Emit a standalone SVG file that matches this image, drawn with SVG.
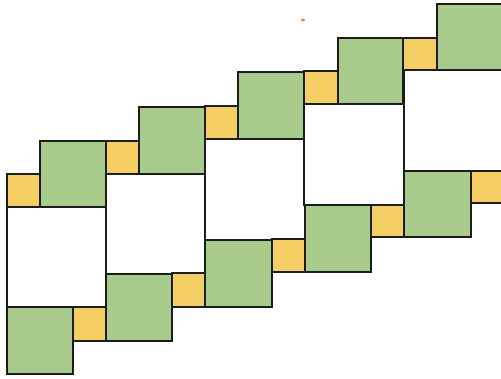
<svg xmlns="http://www.w3.org/2000/svg" width="501" height="379" viewBox="0 0 501 379">
<style>
rect{stroke:#1c1c1c;stroke-width:2;stroke-linejoin:miter}
.g{fill:#a9cb8c}
.y{fill:#f5cf64}
.w{fill:#ffffff}
</style>
<rect x="0" y="0" width="501" height="379" fill="#ffffff" style="stroke:none"/>
<g id="whites">
<rect id="w1" class="w" x="7" y="207" width="99" height="100"/>
<rect id="w2" class="w" x="106" y="174" width="99" height="100"/>
<rect id="w3" class="w" x="205" y="139" width="100" height="101"/>
<rect id="w4" class="w" x="304" y="104" width="100" height="101"/>
<rect id="w5" class="w" x="404" y="70" width="110" height="101"/>
</g>
<g id="top-row">
<g id="ty1"><rect class="y" x="7" y="174" width="33" height="33"/></g>
<g id="tg1"><rect class="g" x="40" y="141" width="66" height="66"/></g>
<g id="ty2"><rect class="y" x="106" y="141" width="33" height="33"/></g>
<g id="tg2"><rect class="g" x="139" y="107" width="66" height="67"/></g>
<g id="ty3"><rect class="y" x="205" y="106" width="33" height="33"/></g>
<g id="tg3"><rect class="g" x="238" y="72" width="66" height="67"/></g>
<g id="ty4"><rect class="y" x="304" y="71" width="34" height="33"/></g>
<g id="tg4"><rect class="g" x="338" y="38" width="65" height="66"/></g>
<g id="ty5"><rect class="y" x="403" y="38" width="34" height="32"/></g>
<g id="tg5"><rect class="g" x="437" y="4" width="80" height="66"/></g>
</g>
<g id="bottom-row">
<g id="bg1"><rect class="g" x="7" y="307" width="66" height="67"/></g>
<g id="by1"><rect class="y" x="73" y="307" width="33" height="34"/></g>
<g id="bg2"><rect class="g" x="106" y="274" width="66" height="67"/></g>
<g id="by2"><rect class="y" x="172" y="273" width="33" height="34"/></g>
<g id="bg3"><rect class="g" x="205" y="240" width="67" height="67"/></g>
<g id="by3"><rect class="y" x="272" y="239" width="33" height="33"/></g>
<g id="bg4"><rect class="g" x="305" y="205" width="66" height="67"/></g>
<g id="by4"><rect class="y" x="371" y="205" width="33" height="32"/></g>
<g id="bg5"><rect class="g" x="404" y="171" width="67" height="66"/></g>
<g id="by5"><rect class="y" x="471" y="171" width="40" height="32"/></g>
</g>
<ellipse cx="303" cy="20" rx="2" ry="1.3" fill="#e8802a"/>
</svg>
